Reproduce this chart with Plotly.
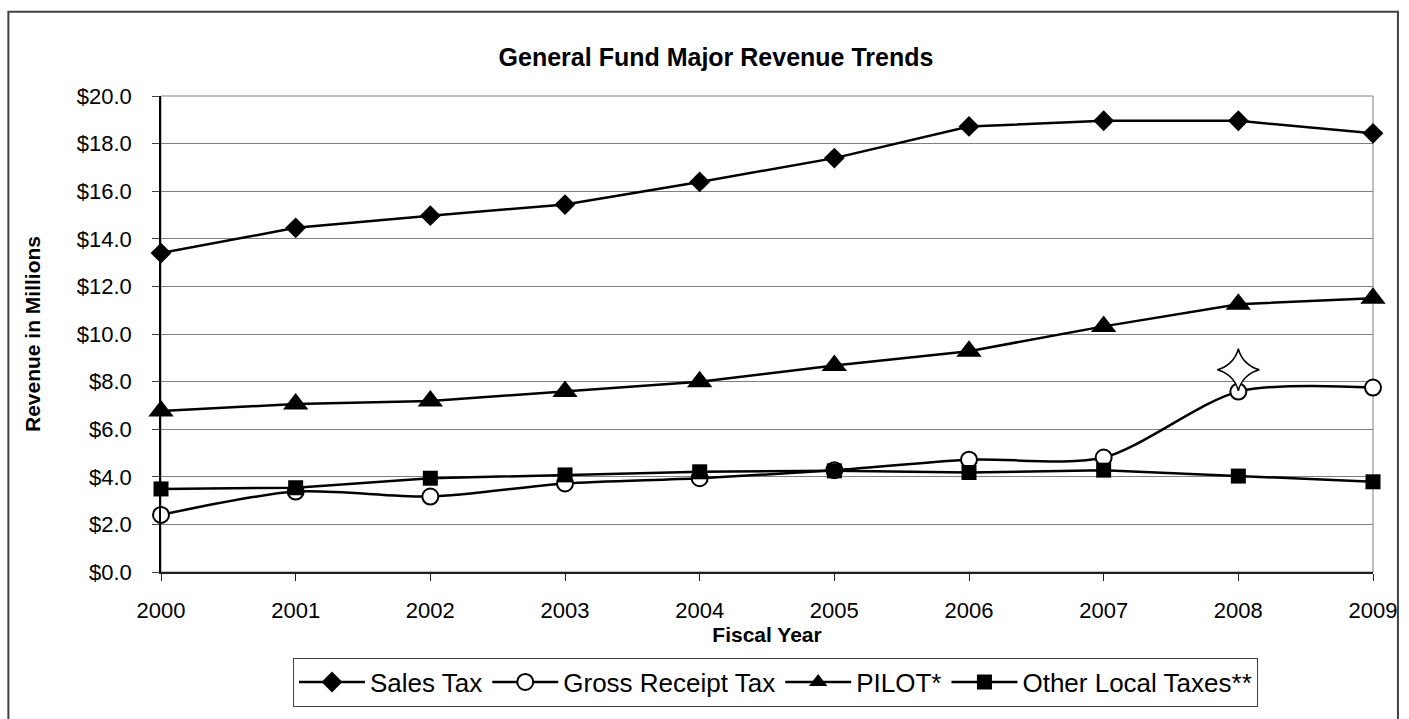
import plotly.graph_objects as go

years = [2000, 2001, 2002, 2003, 2004, 2005, 2006, 2007, 2008, 2009]
sales_tax = [13.40, 14.46, 14.97, 15.44, 16.39, 17.39, 18.72, 18.96, 18.96, 18.43]
gross_receipt_tax = [2.40, 3.38, 3.17, 3.72, 3.94, 4.28, 4.72, 4.81, 7.58, 7.75]
pilot = [6.76, 7.06, 7.19, 7.58, 7.99, 8.68, 9.28, 10.32, 11.25, 11.50]
other_local = [3.49, 3.54, 3.94, 4.08, 4.21, 4.25, 4.18, 4.28, 4.03, 3.79]
star_year = [2008]
star_value = [8.5]

FONT = "Liberation Sans, Arial, sans-serif"
W, H = 1409, 719
PL, PR, PT, PB = 161, 1376, 96, 576  # plot area pixels


def px_x(px):
    return (px - PL) / (PR - PL)


def px_y(py):
    return (PB - py) / (PB - PT)


fig = go.Figure()

fig.add_trace(go.Scatter(
    x=years, y=sales_tax, name="Sales Tax", mode="lines+markers",
    line=dict(color="black", width=2.5),
    marker=dict(symbol="diamond", size=16, color="black"),
    cliponaxis=False))
fig.add_trace(go.Scatter(
    x=years, y=gross_receipt_tax, name="Gross Receipt Tax", mode="lines+markers",
    line=dict(color="black", width=2.5, shape="spline", smoothing=0.8),
    marker=dict(symbol="circle", size=16, color="white", line=dict(color="black", width=2)),
    cliponaxis=False))
fig.add_trace(go.Scatter(
    x=years, y=pilot, name="PILOT*", mode="lines+markers",
    line=dict(color="black", width=2.5),
    marker=dict(symbol="triangle-up", size=22, color="black"),
    cliponaxis=False))
fig.add_trace(go.Scatter(
    x=years, y=other_local, name="Other Local Taxes**", mode="lines+markers",
    line=dict(color="black", width=2.5),
    marker=dict(symbol="square", size=15, color="black"),
    cliponaxis=False))
fig.add_trace(go.Scatter(
    x=star_year, y=star_value, mode="markers", showlegend=False,
    marker=dict(symbol="star-diamond", size=30, color="white", line=dict(color="black", width=1.5)),
    cliponaxis=False))

fig.update_layout(
    width=W, height=H,
    margin=dict(l=PL, r=W - PR, t=PT, b=H - PB, pad=0),
    paper_bgcolor="white", plot_bgcolor="white",
    font=dict(family=FONT, color="black", size=22),
    title=dict(text="<b>General Fund Major Revenue Trends</b>",
               x=716 / W, xanchor="center", xref="container",
               y=1 - 57 / H, yanchor="middle", yref="container",
               font=dict(family=FONT, size=25, color="black")),
    showlegend=True,
    legend=dict(orientation="h", x=px_x(777), xanchor="center",
                y=px_y(687), yanchor="middle",
                font=dict(family=FONT, size=26, color="black"),
                bordercolor="#404040", borderwidth=1, bgcolor="white",
                itemwidth=66, tracegroupgap=0),
    xaxis=dict(range=[2000, 2009], tickmode="array", tickvals=years,
               ticktext=[str(y) for y in years],
               showgrid=False, zeroline=False,
               showline=True, linecolor="#202020", linewidth=1.5,
               ticks="outside", ticklen=7, tickcolor="#202020",
               tickfont=dict(family=FONT, size=22),
               ticklabelstandoff=11,
               title=dict(text="<b>Fiscal Year</b>", font=dict(family=FONT, size=21), standoff=2)),
    yaxis=dict(range=[0, 20], tickmode="linear", tick0=0, dtick=2,
               tickformat="$.1f",
               showgrid=True, gridcolor="#808080", gridwidth=1,
               zeroline=False,
               showline=True, linecolor="black", linewidth=1.5,
               ticks="outside", ticklen=7, tickcolor="#404040",
               tickfont=dict(family=FONT, size=22),
               ticklabelstandoff=16,
               title=dict(text="<b>Revenue in Millions</b>", font=dict(family=FONT, size=21), standoff=30)),
    shapes=[
        dict(type="rect", xref="paper", yref="paper", x0=0, x1=1, y0=0, y1=1,
             line=dict(color="#808080", width=1), layer="below"),
        dict(type="rect", xref="paper", yref="paper",
             x0=px_x(8), x1=px_x(1401), y0=px_y(730), y1=px_y(11),
             line=dict(color="#404040", width=2), layer="below"),
    ],
)

fig.write_html("out.html")
